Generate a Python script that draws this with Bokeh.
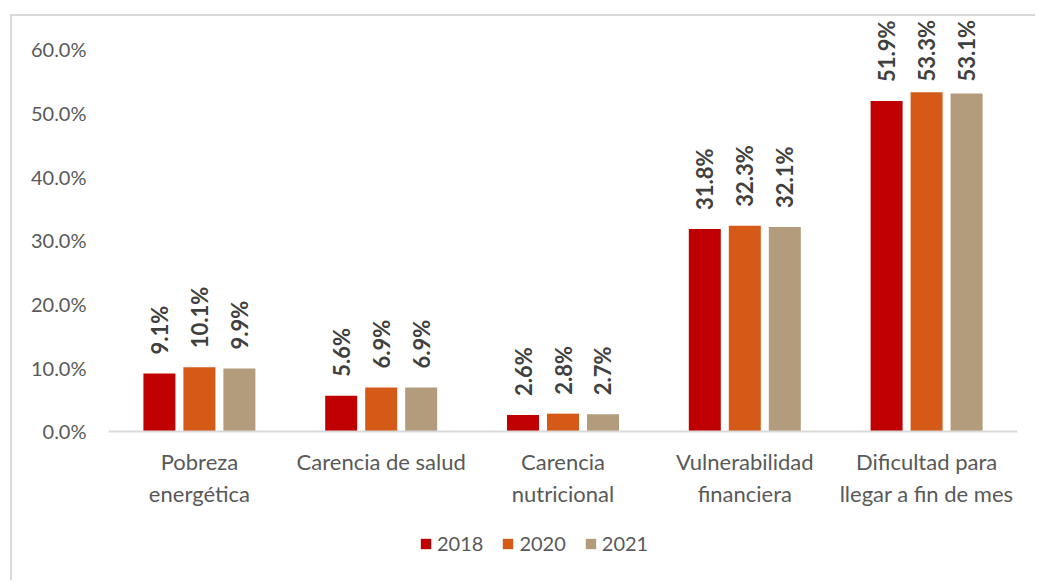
from bokeh.plotting import figure
from bokeh.models import (ColumnDataSource, FactorRange, Range1d, PrintfTickFormatter,
                          FixedTicker, Legend, LegendItem, Span)
from bokeh.transform import dodge
from bokeh.embed import file_html
from bokeh.resources import INLINE
from bokeh.core.properties import value
import math

categories = ["Pobreza energética", "Carencia de salud", "Carencia nutricional",
              "Vulnerabilidad financiera", "Dificultad para llegar a fin de mes"]
category_labels = ["Pobreza\nenergética", "Carencia de salud", "Carencia\nnutricional",
                   "Vulnerabilidad\nfinanciera", "Dificultad para\nllegar a fin de mes"]
years = ["2018", "2020", "2021"]
v2018 = [9.1, 5.6, 2.6, 31.8, 51.9]
v2020 = [10.1, 6.9, 2.8, 32.3, 53.3]
v2021 = [9.9, 6.9, 2.7, 32.1, 53.1]
y_ticks = [0, 10, 20, 30, 40, 50, 60]
colors = ["#C00000", "#D55A17", "#B29C7C"]

FONT = "Lato"
GRAY = "#595959"
Y_END = 65.18
PX_PER_UNIT = 6.367
# data labels are kept inside the chart area (as the original does)
LABEL_CAP = Y_END - (60 + 19 + 5) / PX_PER_UNIT

p = figure(width=1025, height=566, output_backend="svg", toolbar_location=None,
           x_range=FactorRange(factors=categories, range_padding=0),
           y_range=Range1d(-23.72, Y_END), x_axis_location=None)
p.styles = {"margin-left": "10px", "margin-top": "14px",
            "border-left": "2px solid #D9D9D9", "border-top": "2px solid #D9D9D9"}
p.min_border_left = 96
p.min_border_right = 20
p.min_border_top = 0
p.min_border_bottom = 0
p.outline_line_color = None
p.xgrid.grid_line_color = None
p.ygrid.grid_line_color = None
p.background_fill_color = "white"
p.border_fill_color = "white"

data = dict(cat=categories, lab=category_labels, zero=[0] * 5)
for yr, vals in zip(years, [v2018, v2020, v2021]):
    data["y" + yr] = vals
    data["ly" + yr] = [min(v, LABEL_CAP) for v in vals]
    data["l" + yr] = [f"{v:.1f}%" for v in vals]
src = ColumnDataSource(data)

offsets = [-0.22, 0.0, 0.22]
items = []
for yr, off, col in zip(years, offsets, colors):
    r = p.vbar(x=dodge("cat", off, range=p.x_range), top="y" + yr, width=0.176,
               source=src, fill_color=col, line_color=None)
    p.text(x=dodge("cat", off, range=p.x_range), y="ly" + yr, text="l" + yr, source=src,
           angle=math.pi / 2, text_align="left", text_baseline="middle",
           y_offset=-19, text_font=value(FONT), text_font_style="bold",
           text_font_size="22px", text_color="#404040")
    items.append(LegendItem(label=yr, renderers=[r]))

# baseline (category axis line)
p.add_layout(Span(location=0, dimension="width", line_color="#D9D9D9", line_width=2))

# category labels
p.text(x="cat", y="zero", text="lab", source=src, y_offset=17,
       text_align="center", text_baseline="top", text_line_height=1.17,
       text_font=value(FONT), text_font_size="22px", text_color=GRAY)

# y axis
p.yaxis.ticker = FixedTicker(ticks=y_ticks)
p.yaxis.formatter = PrintfTickFormatter(format="%.1f%%")
p.yaxis.axis_line_color = None
p.yaxis.major_tick_line_color = None
p.yaxis.minor_tick_line_color = None
p.yaxis.major_label_text_font = FONT
p.yaxis.major_label_text_font_size = "20px"
p.yaxis.major_label_text_color = GRAY
p.yaxis.major_label_standoff = 16

legend = Legend(items=items, orientation="horizontal", location=(311, 27),
                glyph_width=13, glyph_height=13, label_height=20, label_standoff=5,
                spacing=18, padding=0, margin=0, border_line_color=None,
                background_fill_alpha=0, label_text_font=FONT,
                label_text_font_size="20px", label_text_color=GRAY)
p.add_layout(legend)

open("out.html", "w").write(file_html(p, INLINE))
